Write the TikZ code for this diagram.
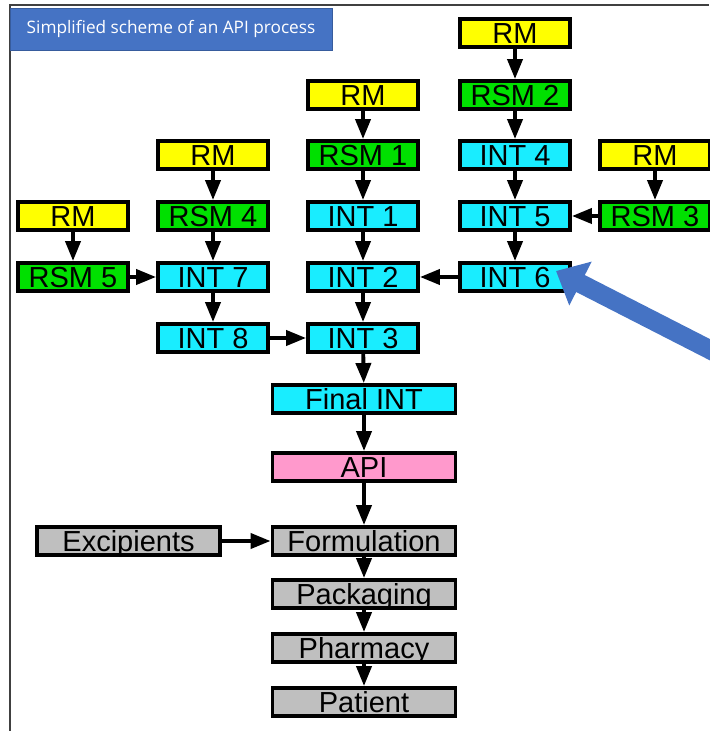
\documentclass[tikz,border=0pt]{standalone}
\usepackage{fontspec}
\setmainfont{Liberation Sans}
\newfontfamily\titlefont{Open Sans}
\usetikzlibrary{arrows.meta}
\definecolor{rmyellow}{rgb}{1,1,0}
\definecolor{rsmgreen}{rgb}{0,0.88,0}
\definecolor{intcyan}{rgb}{0.1,0.93,1}
\definecolor{apipink}{rgb}{1,0.6,0.8}
\definecolor{stepgrey}{rgb}{0.75,0.75,0.75}
\definecolor{titleblue}{rgb}{0.27,0.45,0.77}

\begin{document}
\begin{tikzpicture}[
    box/.style={draw, line width=2.2pt, rectangle, minimum width=2.2cm, minimum height=0.56cm,
        inner sep=0pt, text height=0.44cm, text depth=0.02cm, font=\fontsize{16.5}{18}\selectfont},
    widebox/.style={box, minimum width=3.66cm},
    flow/.style={line width=2.2pt, -{Triangle[length=0.4cm, width=0.3cm]}}]
    \useasboundingbox (0,0) rectangle (14.18,-14.62);
    % frame and title
    \draw[line width=0.8pt, black!75] (0.2,-14.62) -- (0.2,-0.1) -- (14.18,-0.1);
    \node[fill=titleblue, draw=titleblue!80!black, minimum width=6.44cm, minimum height=0.84cm,
        inner sep=0pt, text=white, font=\titlefont\fontsize{9.8}{12}\selectfont] (title) at (3.42,-0.58)
        {Simplified scheme of an API process};

    % column A
    \node[box, fill=rmyellow] (rma) at (1.46,-4.32) {RM};
    \node[box, fill=rsmgreen] (rsm5) at (1.46,-5.54) {RSM 5};
    % column B
    \node[box, fill=rmyellow] (rmb) at (4.26,-3.10) {RM};
    \node[box, fill=rsmgreen] (rsm4) at (4.26,-4.32) {RSM 4};
    \node[box, fill=intcyan] (int7) at (4.26,-5.54) {INT 7};
    \node[box, fill=intcyan] (int8) at (4.26,-6.76) {INT 8};
    % column C
    \node[box, fill=rmyellow] (rmc) at (7.26,-1.90) {RM};
    \node[box, fill=rsmgreen] (rsm1) at (7.26,-3.10) {RSM 1};
    \node[box, fill=intcyan] (int1) at (7.26,-4.32) {INT 1};
    \node[box, fill=intcyan] (int2) at (7.26,-5.54) {INT 2};
    \node[box, fill=intcyan] (int3) at (7.26,-6.76) {INT 3};
    % column D
    \node[box, fill=rmyellow] (rmd) at (10.30,-0.66) {RM};
    \node[box, fill=rsmgreen] (rsm2) at (10.30,-1.90) {RSM 2};
    \node[box, fill=intcyan] (int4) at (10.30,-3.10) {INT 4};
    \node[box, fill=intcyan] (int5) at (10.30,-4.32) {INT 5};
    \node[box, fill=intcyan] (int6) at (10.30,-5.54) {INT 6};
    % column E
    \node[box, fill=rmyellow] (rme) at (13.10,-3.10) {RM};
    \node[box, fill=rsmgreen] (rsm3) at (13.10,-4.32) {RSM 3};

    % main line
    \node[widebox, fill=intcyan] (fint) at (7.28,-7.98) {Final INT};
    \node[widebox, fill=apipink] (api) at (7.28,-9.34) {API};
    \node[widebox, fill=stepgrey] (form) at (7.28,-10.82) {Formulation};
    \node[widebox, fill=stepgrey] (pack) at (7.28,-11.88) {Packaging};
    \node[widebox, fill=stepgrey] (pharm) at (7.28,-12.96) {Pharmacy};
    \node[widebox, fill=stepgrey] (pat) at (7.28,-14.04) {Patient};
    \node[widebox, fill=stepgrey] (exc) at (2.57,-10.82) {Excipients};

    \draw[flow] (rma) -- (rsm5);
    \draw[flow] (rsm5) -- (int7);
    \draw[flow] (rmb) -- (rsm4);
    \draw[flow] (rsm4) -- (int7);
    \draw[flow] (int7) -- (int8);
    \draw[flow] (int8) -- (int3);
    \draw[flow] (rmc) -- (rsm1);
    \draw[flow] (rsm1) -- (int1);
    \draw[flow] (int1) -- (int2);
    \draw[flow] (int2) -- (int3);
    \draw[flow] (rmd) -- (rsm2);
    \draw[flow] (rsm2) -- (int4);
    \draw[flow] (int4) -- (int5);
    \draw[flow] (int5) -- (int6);
    \draw[flow] (int6) -- (int2);
    \draw[flow] (rme) -- (rsm3);
    \draw[flow] (rsm3) -- (int5);
    \draw[flow] (int3) -- (fint);
    \draw[flow] (fint) -- (api);
    \draw[flow] (api) -- (form);
    \draw[flow] (exc) -- (form);
    \draw[flow] (form) -- (pack);
    \draw[flow] (pack) -- (pharm);
    \draw[flow] (pharm) -- (pat);

    % pointer to INT 6
    \coordinate (tail) at (14.6,-7.2);
    \draw[line width=0.38cm, titleblue, -{Triangle[length=0.55cm, width=0.95cm]}] (tail) -- (11.12,-5.42);
\end{tikzpicture}
\end{document}
